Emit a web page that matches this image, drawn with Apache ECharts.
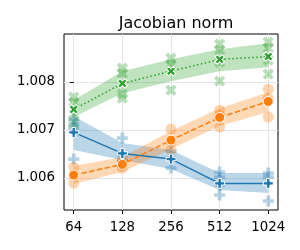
<!DOCTYPE html>
<html><head><meta charset="utf-8">
<script src="https://cdn.jsdelivr.net/npm/echarts@6/dist/echarts.min.js"></script>
<style>html,body{margin:0;padding:0;background:#fff}#c{width:300px;height:250px}</style>
</head><body><div id="c"></div>
<script>
var categories = ['64', '128', '256', '512', '1024'];
var yTicks = [1.006, 1.007, 1.008];

// Blue (+, solid)
var blueMean  = [1.006948, 1.00651, 1.006392, 1.005885, 1.005885];
var blueUpper = [1.007287, 1.006725, 1.006579, 1.0061, 1.0061];
var blueLower = [1.006579, 1.006371, 1.006183, 1.005746, 1.005683];
var bluePts = [
  [1.007225, 1.007121, 1.007037, 1.006392],
  [1.006829, 1.006475, 1.006371, 1.006329],
  [1.006558, 1.006412, 1.006204],
  [1.006121, 1.006017, 1.00585, 1.005642],
  [1.0061, 1.006017, 1.005517]
];
// Orange (o, dashed)
var orangeMean  = [1.006058, 1.006281, 1.006787, 1.00726, 1.007594];
var orangeUpper = [1.006246, 1.006433, 1.006975, 1.007454, 1.007787];
var orangeLower = [1.005871, 1.006121, 1.0066, 1.007079, 1.007371];
var orangePts = [
  [1.006225, 1.006058, 1.005892],
  [1.00635, 1.006267, 1.006204],
  [1.007017, 1.006767, 1.006579],
  [1.007412, 1.007308, 1.007058],
  [1.00785, 1.007662, 1.007267]
];
// Green (X, dotted)
var greenMean  = [1.007427, 1.007969, 1.008225, 1.008469, 1.008531];
var greenUpper = [1.007621, 1.008225, 1.008475, 1.008683, 1.008808];
var greenLower = [1.007267, 1.007767, 1.008017, 1.008225, 1.008308];
var greenPts = [
  [1.007683, 1.007579, 1.007329, 1.007142],
  [1.008288, 1.008183, 1.007746, 1.007662],
  [1.008496, 1.00835, 1.007829],
  [1.008788, 1.008663, 1.008413, 1.008017],
  [1.008829, 1.008704, 1.008454, 1.008163]
];

var PLUS = 'path://M-1,-3H1V-1H3V1H1V3H-1V1H-3V-1H-1Z';
var FONT = 'DejaVu Sans';

function band(upper, lower, color, z) {
  return {
    type: 'custom', z: z, silent: true,
    data: [[0, lower[0]]],
    renderItem: function (params, api) {
      var pts = [];
      for (var i = 0; i < upper.length; i++) pts.push(api.coord([i, upper[i]]));
      for (var j = lower.length - 1; j >= 0; j--) pts.push(api.coord([j, lower[j]]));
      return { type: 'polygon', shape: { points: pts }, style: { fill: color, opacity: 0.3 } };
    }
  };
}
function pts(arr) {
  var out = [];
  arr.forEach(function (g, i) { g.forEach(function (v) { out.push([i, v]); }); });
  return out;
}
function scat(arr, color, symbol, rot, size, z) {
  return {
    type: 'scatter', z: z, silent: true, data: pts(arr),
    symbol: symbol, symbolRotate: rot, symbolSize: size,
    itemStyle: { color: color, opacity: 0.33 }
  };
}
function line(mean, color, type, symbol, rot, size, z) {
  return {
    type: 'line', z: z, silent: true,
    data: mean.map(function (v, i) { return [i, v]; }),
    symbol: symbol, symbolRotate: rot, symbolSize: size, showSymbol: true,
    lineStyle: { color: color, width: 1.5, type: type },
    itemStyle: { color: color, borderColor: '#fff', borderWidth: 1, opacity: 1 }
  };
}

var chart = echarts.init(document.getElementById('c'), null, { renderer: 'canvas' });
chart.setOption({
  animation: false,
  title: {
    text: 'Jacobian norm', left: 171, top: 11, textAlign: 'center',
    textStyle: { fontFamily: FONT, fontSize: 16, fontWeight: 'normal', color: '#000' }
  },
  grid: { left: 64, right: 22, top: 34, bottom: 40, show: true, borderColor: '#000', borderWidth: 1, containLabel: false },
  xAxis: {
    type: 'value', min: -0.2, max: 4.2,
    axisLine: { show: false },
    axisTick: { show: true, length: 4, lineStyle: { color: '#000', width: 1 }, customValues: [0, 1, 2, 3, 4] },
    axisLabel: {
      customValues: [0, 1, 2, 3, 4], margin: 11,
      formatter: function (v) { return categories[Math.round(v)]; },
      fontFamily: FONT, fontSize: 13.3, color: '#000'
    },
    splitLine: { show: true, lineStyle: { color: '#e6e6e6', width: 1 } }
  },
  yAxis: {
    type: 'value', min: 1.00533, max: 1.009,
    axisLine: { show: false },
    axisTick: { show: true, length: 4, lineStyle: { color: '#000', width: 1 }, customValues: yTicks },
    axisLabel: {
      customValues: yTicks, margin: 9,
      formatter: function (v) { return v.toFixed(3); },
      fontFamily: FONT, fontSize: 13.3, color: '#000'
    },
    splitLine: { show: true, lineStyle: { color: '#e6e6e6', width: 1 } }
  },
  series: [
    band(blueUpper, blueLower, '#1f77b4', 1),
    band(orangeUpper, orangeLower, '#ff7f0e', 1),
    band(greenUpper, greenLower, '#2ca02c', 1),
    scat(bluePts, '#1f77b4', PLUS, 0, 11, 2),
    scat(orangePts, '#ff7f0e', 'circle', 0, 11, 2),
    scat(greenPts, '#2ca02c', PLUS, 45, 12, 2),
    line(blueMean, '#1f77b4', 'solid', PLUS, 0, 10, 3),
    line(orangeMean, '#ff7f0e', [5.5, 2.4], 'circle', 0, 10, 3),
    line(greenMean, '#2ca02c', [1.5, 2.5], PLUS, 45, 10, 3)
  ]
});
</script></body></html>
